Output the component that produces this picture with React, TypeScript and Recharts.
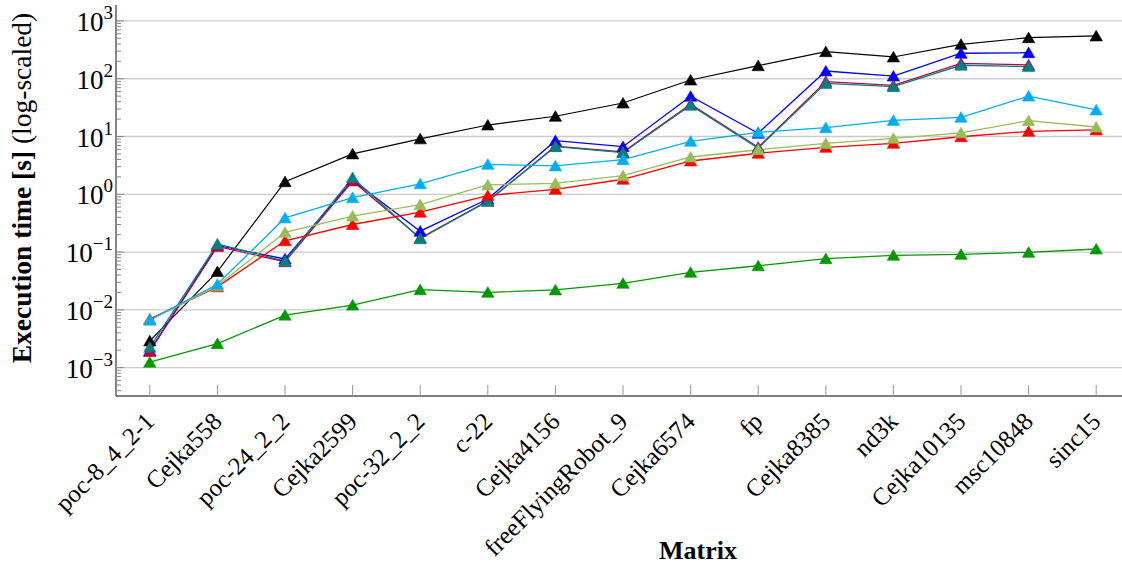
import React from 'react';
import { LineChart, Line, XAxis, YAxis, ReferenceLine } from 'recharts';

const categories = [
  'poc-8_4_2-1', 'Cejka558', 'poc-24_2_2', 'Cejka2599', 'poc-32_2_2', 'c-22', 'Cejka4156',
  'freeFlyingRobot_9', 'Cejka6574', 'fp', 'Cejka8385', 'nd3k', 'Cejka10135', 'msc10848', 'sinc15',
];

const seriesBlack = [0.0029, 0.046, 1.65, 5.0, 9.1, 15.8, 22.4, 38, 95, 168, 294, 238, 394, 513, 550];
const seriesBlue = [0.00196, 0.13, 0.076, 1.75, 0.23, 0.83, 8.47, 6.67, 49.7, 11.4, 136, 111, 276, 282, null];
const seriesPurple = [0.0019, 0.125, 0.068, 1.7, 0.175, 0.76, 6.8, 5.4, 36, 6.5, 89, 77, 185, 173, null];
const seriesTeal = [0.00225, 0.138, 0.07, 1.94, 0.17, 0.76, 6.67, 5.25, 34.7, 6.3, 83, 73, 171, 162, null];
const seriesRed = [0.0069, 0.025, 0.157, 0.3, 0.49, 0.95, 1.22, 1.82, 3.77, 5.13, 6.5, 7.63, 9.9, 12.3, 13];
const seriesOlive = [0.0066, 0.026, 0.22, 0.42, 0.66, 1.45, 1.55, 2.1, 4.42, 5.9, 7.6, 9.3, 11.6, 18.8, 14.6];
const seriesCyan = [0.0067, 0.0277, 0.39, 0.875, 1.52, 3.3, 3.1, 3.98, 8.27, 11.8, 14.2, 19, 21.5, 50, 28.8];
const seriesGreen = [0.00124, 0.0026, 0.0081, 0.0121, 0.0223, 0.0201, 0.0221, 0.0288, 0.0447, 0.058, 0.0769, 0.088, 0.0913, 0.099, 0.113];

const majorTicks = [1e-3, 1e-2, 1e-1, 1, 10, 100, 1000];
const majorExponents = ['\u22123', '\u22122', '\u22121', '0', '1', '2', '3'];
const minorMultipliers = [2, 3, 4, 5, 6, 7, 8, 9];
const minorDecades = [1e-4, 1e-3, 1e-2, 1e-1, 1, 10, 100, 1000];

const yMin = Math.pow(10, -3.491);
const yMax = Math.pow(10, 3.276);

const minorTicks: number[] = [];
minorDecades.forEach((d) => minorMultipliers.forEach((m) => {
  const v = m * d;
  if (v >= yMin && v <= yMax) minorTicks.push(v);
}));
const allTicks = [...majorTicks, ...minorTicks].sort((a, b) => a - b);

const seriesDefs = [
  { key: 'black', values: seriesBlack, color: '#000000', width: 1.2 },
  { key: 'blue', values: seriesBlue, color: '#0000ff', width: 1.3 },
  { key: 'purple', values: seriesPurple, color: '#bf0040', width: 1.3 },
  { key: 'teal', values: seriesTeal, color: '#008080', width: 1.3 },
  { key: 'red', values: seriesRed, color: '#ff0000', width: 1.3 },
  { key: 'olive', values: seriesOlive, color: '#9bbb59', width: 1.3 },
  { key: 'cyan', values: seriesCyan, color: '#00aeef', width: 1.3 },
  { key: 'green', values: seriesGreen, color: '#009900', width: 1.3 },
];

const data = categories.map((name, i) => {
  const row: Record<string, any> = { name };
  seriesDefs.forEach((s) => { row[s.key] = s.values[i]; });
  return row;
});

const FONT = '"Liberation Serif", "Times New Roman", serif';

const makeTriangle = (color: string) => (props: any) => {
  const { cx, cy, value, index } = props;
  if (cx == null || cy == null || value == null) return <g key={`e-${index}`} />;
  return (
    <polygon
      key={`t-${index}`}
      points={`${cx},${cy - 5.6} ${cx - 6.2},${cy + 5} ${cx + 6.2},${cy + 5}`}
      fill={color}
      stroke={color}
      strokeWidth={0.6}
      strokeLinejoin="miter"
    />
  );
};

const YTick = (props: any) => {
  const { x, y, payload } = props;
  const v = payload.value;
  const idx = majorTicks.findIndex((m) => Math.abs(Math.log10(m) - Math.log10(v)) < 1e-6);
  const isMajor = idx >= 0;
  return (
    <g>
      <line x1={x} y1={y} x2={x + (isMajor ? 8 : 5)} y2={y} stroke="#888" strokeWidth={1} />
      {isMajor && (
        <text x={x - 3} y={y + 10} textAnchor="end" fontFamily={FONT} fontSize={27} fill="#000">
          <tspan>10</tspan>
          <tspan dy={-12} fontSize={19}>{majorExponents[idx]}</tspan>
        </text>
      )}
    </g>
  );
};

const XTick = (props: any) => {
  const { x, y, payload } = props;
  const ax = x + 6;
  const ay = y + 27;
  return (
    <g>
      <line x1={x} y1={y - 11} x2={x} y2={y} stroke="#999" strokeWidth={1} />
      <text
        x={ax}
        y={ay}
        textAnchor="end"
        transform={`rotate(-45, ${ax}, ${ay})`}
        fontFamily={FONT}
        fontSize={25}
        fill="#000"
      >
        {payload.value}
      </text>
    </g>
  );
};

const XTitle = () => (
  <text x={698} y={559} textAnchor="middle" fontFamily={FONT} fontSize={26} fontWeight="bold" fill="#000">
    Matrix
  </text>
);

const YTitle = () => (
  <text transform="translate(31,188) rotate(-90)" textAnchor="middle" fontFamily={FONT} fontSize={27.5} fill="#000">
    <tspan fontWeight="bold">Execution time [s]</tspan>
    <tspan>{' (log-scaled)'}</tspan>
  </text>
);

export default function App() {
  return (
    <div style={{ position: 'absolute', left: 0, top: 0, width: 1135, height: 565, background: '#fff' }}>
      <LineChart width={1135} height={565} data={data} margin={{ top: 5, right: 5, bottom: 0, left: 0 }}>
        <XAxis
          dataKey="name"
          type="category"
          scale="point"
          padding={{ left: 33.8, right: 33.8 }}
          interval={0}
          height={169}
          tickSize={0}
          tickMargin={0}
          tickLine={false}
          axisLine={{ stroke: '#555', strokeWidth: 1.3 }}
          tick={<XTick />}
          label={<XTitle />}
        />
        <YAxis
          type="number"
          scale="log"
          domain={[yMin, yMax]}
          allowDataOverflow
          ticks={allTicks}
          interval={0}
          width={116}
          tickSize={0}
          tickMargin={0}
          tickLine={false}
          axisLine={{ stroke: '#444', strokeWidth: 1.3 }}
          tick={<YTick />}
          label={<YTitle />}
        />
        {majorTicks.map((v) => (
          <ReferenceLine key={`g-${v}`} y={v} stroke="#cbcbcb" strokeWidth={1.3} />
        ))}
        {seriesDefs.map((s) => (
          <Line
            key={s.key}
            dataKey={s.key}
            type="linear"
            stroke={s.color}
            strokeWidth={s.width}
            dot={makeTriangle(s.color)}
            activeDot={false}
            isAnimationActive={false}
            connectNulls={false}
          />
        ))}
      </LineChart>
    </div>
  );
}
